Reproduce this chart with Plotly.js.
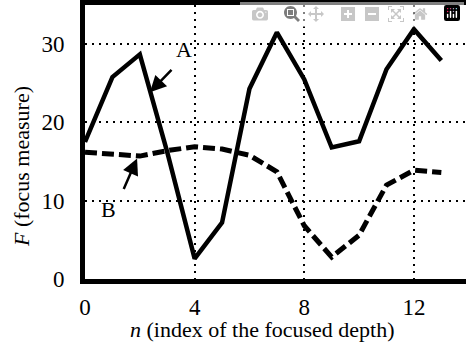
<!DOCTYPE html>
<html>
<head>
<meta charset="utf-8">
<script src="https://cdn.plot.ly/plotly-3.0.1.min.js"></script>
</head>
<body style="margin:0">
<div id="chart"></div>
<script>
const depthIndex = [0,1,2,3,4,5,6,7,8,9,10,11,12,13];
const focusA = [17.5,25.8,28.7,16.2,2.6,7.2,24.3,31.5,25.5,16.8,17.6,26.8,31.9,27.9];
const focusB = [16.2,16.0,15.7,16.4,16.9,16.6,15.8,13.7,6.8,2.8,5.6,12.0,13.9,13.6];
const xTicks = [0,4,8,12];
const yTicks = [0,10,20,30];

const traces = [
  {x: depthIndex, y: focusA, mode: 'lines', name: 'A',
   line: {color: '#000', width: 4.5}},
  {x: depthIndex, y: focusB, mode: 'lines', name: 'B',
   line: {color: '#000', width: 5, dash: '12px,5px'}}
];

const layout = {
  width: 466, height: 342,
  margin: {l: 85, r: 0, t: 5, b: 63},
  showlegend: false,
  font: {family: 'Times New Roman', size: 20},
  xaxis: {
    range: [0, 13.9], tickvals: xTicks, ticktext: xTicks.map(String),
    showline: true, linecolor: '#000', linewidth: 5, mirror: true,
    showgrid: true, gridcolor: '#000', gridwidth: 2, griddash: '2px,5px',
    zeroline: false, ticks: '', ticklabelstandoff: 3,
    tickfont: {size: 23, color: '#000'}
  },
  yaxis: {
    range: [0, 35], tickvals: yTicks, ticktext: yTicks.map(String),
    showline: true, linecolor: '#000', linewidth: 5, mirror: false,
    showgrid: true, gridcolor: '#000', gridwidth: 2, griddash: '2px,5px',
    zeroline: false, ticks: '', ticklabelstandoff: 11,
    tickfont: {size: 23, color: '#000'}
  },
  annotations: [
    {xref: 'paper', yref: 'paper', x: 0.466, y: -0.185, xanchor: 'center', yanchor: 'middle',
     text: '<i>n</i> (index of the focused depth)', showarrow: false,
     font: {size: 22, color: '#000'}},
    {xref: 'paper', yref: 'paper', x: -0.165, y: 0.409, xanchor: 'center', yanchor: 'middle',
     textangle: -90, text: '<i>F</i> (focus measure)', showarrow: false,
     font: {size: 22, color: '#000'}},
    {x: 2.37, y: 23.85, xref: 'x', yref: 'y', text: '', showarrow: true,
     ax: 23, ay: -24, arrowhead: 2, arrowsize: 1.3, arrowwidth: 2.5, arrowcolor: '#000'},
    {x: 3.6, y: 29.3, xref: 'x', yref: 'y', text: 'A', showarrow: false,
     font: {size: 22, color: '#000'}},
    {x: 1.9, y: 15.4, xref: 'x', yref: 'y', text: '', showarrow: true,
     ax: -14, ay: 32, arrowhead: 2, arrowsize: 1.3, arrowwidth: 2.5, arrowcolor: '#000'},
    {x: 0.85, y: 8.9, xref: 'x', yref: 'y', text: 'B', showarrow: false,
     font: {size: 22, color: '#000'}}
  ]
};

Plotly.newPlot('chart', traces, layout);
</script>
</body>
</html>
